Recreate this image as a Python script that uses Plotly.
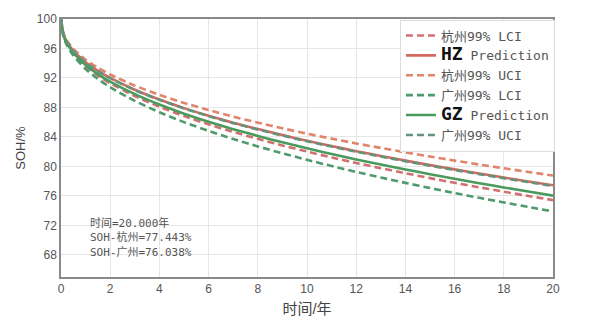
import plotly.graph_objects as go

# time axis (years)
years = [0, 0.1, 0.25, 0.5, 1, 1.5, 2, 3, 4, 5, 6, 7, 8, 9, 10,
         11, 12, 13, 14, 15, 16, 17, 18, 19, 20]

# Hangzhou SOH (%)
hz_lci = [100, 97.73, 96.58, 95.33, 93.62, 92.34, 91.29, 89.54, 88.10, 86.83,
          85.71, 84.68, 83.74, 82.85, 82.02, 81.22, 80.47, 79.76, 79.08, 78.41,
          77.78, 77.17, 76.57, 75.99, 75.43]
hz_pred = [100, 97.92, 96.86, 95.71, 94.14, 92.97, 92.00, 90.40, 89.07, 87.91,
           86.88, 85.93, 85.07, 84.25, 83.49, 82.76, 82.07, 81.42, 80.79, 80.18,
           79.60, 79.04, 78.49, 77.96, 77.443]
hz_uci = [100, 98.04, 97.04, 95.96, 94.48, 93.38, 92.47, 90.96, 89.71, 88.62,
          87.65, 86.75, 85.94, 85.17, 84.45, 83.77, 83.12, 82.51, 81.91, 81.34,
          80.79, 80.26, 79.75, 79.25, 78.76]

# Guangzhou SOH (%)
gz_lci = [100, 97.59, 96.37, 95.04, 93.22, 91.87, 90.74, 88.89, 87.35, 86.01,
          84.82, 83.72, 82.72, 81.78, 80.90, 80.05, 79.25, 78.50, 77.77, 77.07,
          76.39, 75.75, 75.11, 74.50, 73.90]
gz_pred = [100, 97.79, 96.66, 95.44, 93.77, 92.53, 91.50, 89.80, 88.39, 87.16,
           86.06, 85.05, 84.14, 83.27, 82.46, 81.69, 80.95, 80.26, 79.59, 78.95,
           78.33, 77.73, 77.15, 76.59, 76.038]
gz_uci = [100, 97.91, 96.85, 95.69, 94.12, 92.94, 91.97, 90.36, 89.03, 87.86,
          86.83, 85.87, 85.01, 84.19, 83.42, 82.69, 82.00, 81.34, 80.71, 80.10,
          79.52, 78.95, 78.40, 77.87, 77.35]

x_ticks = list(range(0, 21, 2))
y_ticks = list(range(68, 101, 4))

big = "<span style='font-size:18px;color:#111'><b>{}</b></span> Prediction"

series = [
    ("杭州99% LCI", hz_lci, "#d46f70", "7px,4px"),
    (big.format("HZ"), hz_pred, "#d2695c", "solid"),
    ("杭州99% UCI", hz_uci, "#e0846c", "7px,4px"),
    ("广州99% LCI", gz_lci, "#4f9a6c", "7px,4px"),
    (big.format("GZ"), gz_pred, "#4a9a5c", "solid"),
    ("广州99% UCI", gz_uci, "#62937c", "7px,4px"),
]

fig = go.Figure()
for name, vals, color, dash in series:
    fig.add_trace(go.Scatter(
        x=years, y=vals, name=name, mode="lines",
        line=dict(color=color, width=2.6, dash=dash, shape="spline", smoothing=0.6),
    ))

t_end = years[-1]
readout = (f"时间={t_end:.3f}年<br>"
           f"SOH-杭州={hz_pred[-1]:.3f}%<br>"
           f"SOH-广州={gz_pred[-1]:.3f}%")
fig.add_annotation(
    x=1.1, y=70.4, xref="x", yref="y", text=readout, showarrow=False,
    xanchor="left", yanchor="middle", align="left",
    font=dict(family="DejaVu Sans Mono, Noto Sans CJK SC", size=11, color="#555"),
)

axis_common = dict(
    showline=True, linecolor="#8a8a8a", linewidth=1.5, mirror=True,
    showgrid=True, gridcolor="#e6e6e6", gridwidth=1,
    zeroline=False, ticks="", tickfont=dict(size=12, color="#555"),
)

fig.update_layout(
    width=600, height=327,
    margin=dict(l=61, r=47, t=15, b=50),
    paper_bgcolor="white", plot_bgcolor="white",
    font=dict(family="Liberation Sans, Noto Sans CJK SC", color="#555"),
    xaxis=dict(range=[0, 20], tickvals=x_ticks, ticklen=0,
               title=dict(text="时间/年", font=dict(size=15, color="#444"), standoff=8),
               **axis_common),
    yaxis=dict(range=[65, 100], tickvals=y_ticks,
               title=dict(text="SOH/%", font=dict(size=13, color="#444"), standoff=8),
               **axis_common),
    legend=dict(
        x=1.004, y=0.998, xanchor="right", yanchor="top",
        bgcolor="rgba(255,255,255,0.95)", bordercolor="#dddddd", borderwidth=1,
        font=dict(family="DejaVu Sans Mono, Noto Sans CJK SC", size=13, color="#555"),
        itemwidth=30, tracegroupgap=0,
    ),
    showlegend=True,
)

fig.write_html("out.html")
